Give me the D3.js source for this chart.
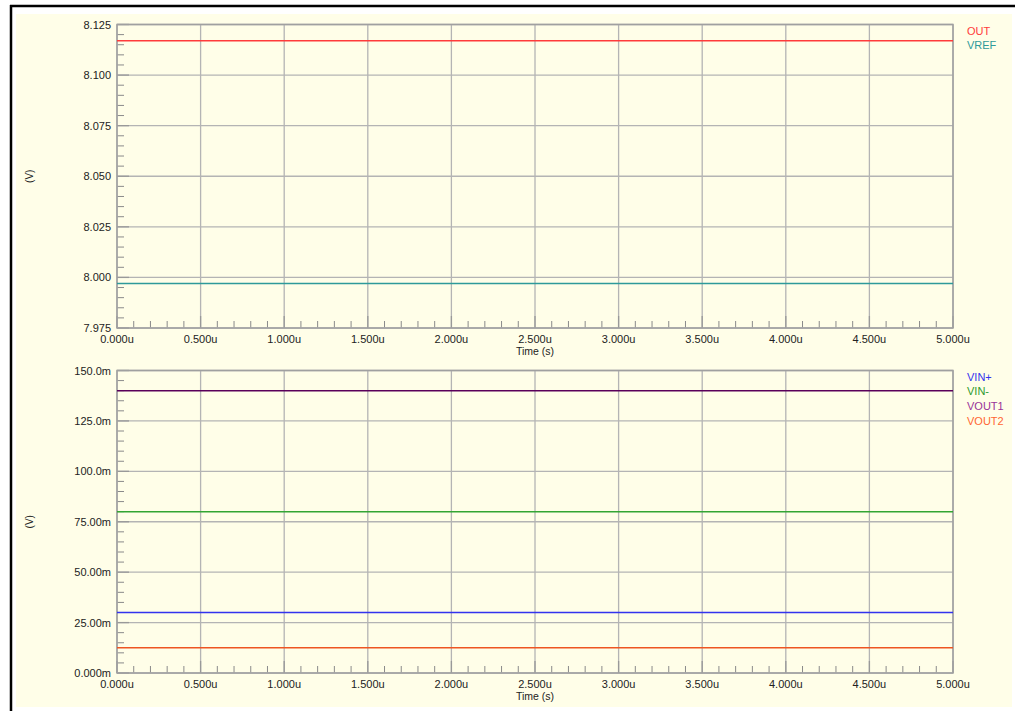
<!DOCTYPE html>
<html><head><meta charset="utf-8">
<script src="https://cdn.jsdelivr.net/npm/d3@7"></script>
<style>
html,body{margin:0;padding:0;background:#fff;}
svg text{font-family:"Liberation Sans",Arial,Helvetica,sans-serif;}
</style></head>
<body>
<svg id="c" width="1015" height="711"></svg>
<script>
// time axis (microseconds)
const timeUs = [0, 1, 2, 3, 4, 5];
const xTickLabels = ["0.000u","0.500u","1.000u","1.500u","2.000u","2.500u","3.000u","3.500u","4.000u","4.500u","5.000u"];
const xTickValues = [0,0.5,1,1.5,2,2.5,3,3.5,4,4.5,5];

// top panel
const topNames = ["OUT","VREF"];
const topColors = ["#ff3b3b","#2e9a9a"];
const outV  = [8.117, 8.117, 8.117, 8.117, 8.117, 8.117];
const vrefV = [7.997, 7.997, 7.997, 7.997, 7.997, 7.997];
const topTickValues = [7.975, 8.000, 8.025, 8.050, 8.075, 8.100, 8.125];
const topTickLabels = ["7.975","8.000","8.025","8.050","8.075","8.100","8.125"];

// bottom panel (mV)
const botNames = ["VIN+","VIN-","VOUT1","VOUT2"];
const botLabelColors = ["#3333ee","#2e9a2e","#993399","#ff6633"];
const botLineColors  = ["#3333ee","#33a533","#5a005a","#ee5522"];
const vinP  = [30, 30, 30, 30, 30, 30];
const vinM  = [80, 80, 80, 80, 80, 80];
const vout1 = [140, 140, 140, 140, 140, 140];
const vout2 = [12.5, 12.5, 12.5, 12.5, 12.5, 12.5];
const botTickValues = [0, 25, 50, 75, 100, 125, 150];
const botTickLabels = ["0.000m","25.00m","50.00m","75.00m","100.0m","125.0m","150.0m"];

const svg = d3.select("#c");
// background & frame
svg.append("rect").attr("x",16).attr("y",14).attr("width",996).attr("height",693).attr("fill","#fffee8");
svg.append("line").attr("x1",11).attr("x2",11).attr("y1",5).attr("y2",711).attr("stroke","#000").attr("stroke-width",2.5);
svg.append("line").attr("x1",10).attr("x2",1015).attr("y1",6).attr("y2",6).attr("stroke","#000").attr("stroke-width",2.5);

const x = d3.scaleLinear().domain([0,5]).range([117,953]);

function panel(cfg){
  const y = d3.scaleLinear().domain(cfg.domain).range([cfg.bottom, cfg.top]);
  const g = svg.append("g");
  const step = cfg.tickValues[1]-cfg.tickValues[0];
  // minor y ticks
  const minorY = [];
  for (let i=0;i<cfg.tickValues.length-1;i++) for (let k=1;k<5;k++) minorY.push(cfg.tickValues[i]+step*k/5);
  g.selectAll(".my").data(minorY).enter().append("line")
    .attr("x1",x(0)).attr("x2",x(0)+7).attr("y1",d=>y(d)).attr("y2",d=>y(d))
    .attr("stroke","#8a8a8a").attr("stroke-width",1);
  // minor x ticks
  const minorX = [];
  for (let i=0;i<xTickValues.length-1;i++) for (let k=1;k<5;k++) minorX.push(xTickValues[i]+0.1*k);
  g.selectAll(".mx").data(minorX).enter().append("line")
    .attr("x1",d=>x(d)).attr("x2",d=>x(d)).attr("y1",cfg.bottom).attr("y2",cfg.bottom-7)
    .attr("stroke","#8a8a8a").attr("stroke-width",1);
  // grid
  g.selectAll(".gx").data(xTickValues).enter().append("line")
    .attr("x1",d=>x(d)).attr("x2",d=>x(d)).attr("y1",cfg.top).attr("y2",cfg.bottom)
    .attr("stroke","#b4b4b4").attr("stroke-width",1.3);
  g.selectAll(".gy").data(cfg.tickValues).enter().append("line")
    .attr("x1",x(0)).attr("x2",x(5)).attr("y1",d=>y(d)).attr("y2",d=>y(d))
    .attr("stroke","#b4b4b4").attr("stroke-width",1.3);
  // major ticks darker
  g.selectAll(".ty").data(cfg.tickValues).enter().append("line")
    .attr("x1",x(0)).attr("x2",x(0)+12).attr("y1",d=>y(d)).attr("y2",d=>y(d))
    .attr("stroke","#999").attr("stroke-width",1.3);
  g.selectAll(".tx").data(xTickValues).enter().append("line")
    .attr("x1",d=>x(d)).attr("x2",d=>x(d)).attr("y1",cfg.bottom).attr("y2",cfg.bottom-12)
    .attr("stroke","#999").attr("stroke-width",1.3);
  // frame
  g.append("rect").attr("x",x(0)).attr("y",cfg.top).attr("width",x(5)-x(0)).attr("height",cfg.bottom-cfg.top)
    .attr("fill","none").attr("stroke","#a0a0a0").attr("stroke-width",1.5);
  // series
  const line = d3.line().x((d,i)=>x(timeUs[i])).y(d=>y(d));
  cfg.series.forEach((s,i)=>{
    g.append("path").attr("d",line(s)).attr("fill","none").attr("stroke",cfg.lineColors[i]).attr("stroke-width",1.5);
  });
  // y tick labels
  g.selectAll(".yl").data(cfg.tickValues).enter().append("text")
    .attr("x",x(0)-6).attr("y",d=>y(d)+4).attr("text-anchor","end")
    .attr("font-size",11).attr("fill","#222").text((d,i)=>cfg.tickLabels[i]);
  // x tick labels
  g.selectAll(".xl").data(xTickValues).enter().append("text")
    .attr("x",d=>x(d)).attr("y",cfg.bottom+15).attr("text-anchor","middle")
    .attr("font-size",11).attr("fill","#222").text((d,i)=>xTickLabels[i]);
  g.append("text").attr("x",x(2.5)).attr("y",cfg.bottom+27).attr("text-anchor","middle")
    .attr("font-size",10.5).attr("fill","#222").text("Time (s)");
  g.append("text").attr("transform",`translate(33,${(cfg.top+cfg.bottom)/2}) rotate(-90)`)
    .attr("text-anchor","middle").attr("font-size",10).attr("fill","#222").text("(V)");
  // legend
  cfg.names.forEach((n,i)=>{
    g.append("text").attr("x",967).attr("y",cfg.top+10+i*14.8).attr("font-size",11)
      .attr("fill",cfg.labelColors[i]).text(n);
  });
}

panel({domain:[7.975,8.125], top:24.5, bottom:328, tickValues:topTickValues, tickLabels:topTickLabels,
  series:[outV, vrefV], lineColors:topColors, labelColors:topColors, names:topNames});
panel({domain:[0,150], top:370.5, bottom:673, tickValues:botTickValues, tickLabels:botTickLabels,
  series:[vinP, vinM, vout1, vout2], lineColors:botLineColors, labelColors:botLabelColors, names:botNames});
</script>
</body></html>
